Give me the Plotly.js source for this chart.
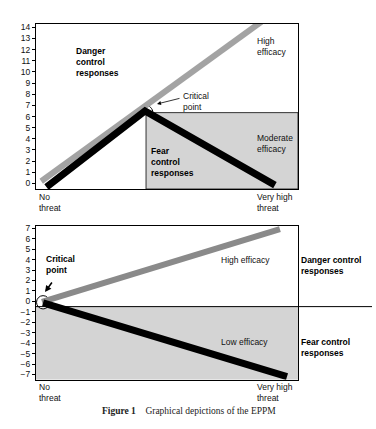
<!DOCTYPE html>
<html>
<head>
<meta charset="utf-8">
<script src="https://cdn.plot.ly/plotly-3.0.1.min.js"></script>
<style>html,body{margin:0;padding:0;background:#fff}#chart{width:376px;height:429px}</style>
</head>
<body>
<div id="chart"></div>
<script>
// ---- data (top panel) ----
const topHighX = [0.2, 8.6];
const topHighY = [0.2, 14.5];
const topModX = [0.4, 4.16, 9.12];
const topModY = [-0.33, 6.5, -0.15];
const topYTicks = [0,1,2,3,4,5,6,7,8,9,10,11,12,13,14];
// ---- data (bottom panel) ----
const botHighX = [0.23, 9.31];
const botHighY = [-0.05, 6.92];
const botLowX = [0.27, 9.58];
const botLowY = [-0.14, -7.2];
const botYTicks = [-7,-6,-5,-4,-3,-2,-1,0,1,2,3,4,5,6,7];
const xLabels = ["No<br>threat", "Very high<br>threat"];

const W = 376, H = 429;
const px = x => x / W;
const py = y => 1 - y / H;

const traces = [
  {x: topHighX, y: topHighY, xaxis:'x', yaxis:'y', mode:'lines', line:{color:'#a3a3a3', width:6}, hoverinfo:'skip'},
  {x: topModX, y: topModY, xaxis:'x', yaxis:'y', mode:'lines', line:{color:'#000', width:7}, hoverinfo:'skip'},
  {x: botHighX, y: botHighY, xaxis:'x2', yaxis:'y2', mode:'lines', line:{color:'#8a8a8a', width:6}, hoverinfo:'skip'},
  {x: botLowX, y: botLowY, xaxis:'x2', yaxis:'y2', mode:'lines', line:{color:'#000', width:7}, hoverinfo:'skip'}
];

const tf = {family:'Liberation Sans, Arial, sans-serif', size:8.5, color:'#111'};
const axY = (dom, rng, ticks, anchor) => ({
  domain: dom, range: rng, tickvals: ticks, ticks:'outside', ticklen:3, tickcolor:'#000',
  showline:true, mirror:true, linecolor:'#000', linewidth:1, showgrid:false, zeroline:false,
  tickfont: tf, anchor: anchor, fixedrange:true
});
const axX = (anchor) => ({
  domain:[px(36), px(298)], range:[0,10], showticklabels:false, ticks:'',
  showline:true, mirror:true, linecolor:'#000', linewidth:1, showgrid:false, zeroline:false, anchor: anchor, fixedrange:true
});

// semicircle helper (upper half) in data units
function upperArc(cx, cy, rx, ry){
  const k = 0.5523;
  return `M ${cx-rx},${cy} C ${cx-rx},${cy+k*ry} ${cx-k*rx},${cy+ry} ${cx},${cy+ry} C ${cx+k*rx},${cy+ry} ${cx+rx},${cy+k*ry} ${cx+rx},${cy}`;
}

const shapes = [
  {type:'rect', xref:'x', yref:'y', x0:4.2, x1:10, y0:-0.5, y1:6.35, fillcolor:'#d4d4d4', line:{color:'#333', width:1}, layer:'below'},
  {type:'path', xref:'x', yref:'y', path: upperArc(4.18, 6.35, 0.28, 0.65), fillcolor:'#fff', line:{color:'#000', width:1}, layer:'below'},
  {type:'rect', xref:'x2', yref:'y2', x0:0, x1:10, y0:-7.5, y1:-0.5, fillcolor:'#d4d4d4', line:{width:0}, layer:'below'},
  {type:'line', xref:'paper', yref:'y2', x0:px(36), x1:px(372), y0:-0.5, y1:-0.5, line:{color:'#000', width:1}},
  {type:'circle', xref:'x2', yref:'y2', x0:0.02, x1:0.52, y0:-0.72, y1:0.55, fillcolor:'#fff', line:{color:'#000', width:1}, layer:'below'}
];

const f = {family:'Liberation Sans, Arial, sans-serif', size:8.5, color:'#111'};
const fb = {family:'Liberation Sans, Arial, sans-serif', size:8.5, color:'#000', weight:'bold'};
const ann = (x, y, text, font) => ({xref:'paper', yref:'paper', x:px(x), y:py(y), text:text, showarrow:false, xanchor:'left', yanchor:'middle', align:'left', font:font||f});

const annotations = [
  ann(74, 62, '<b>Danger<br>control<br>responses</b>', fb),
  ann(255, 46, 'High<br>efficacy'),
  ann(181, 102, 'Critical<br>point'),
  ann(255, 144, 'Moderate<br>efficacy'),
  ann(149, 162, '<b>Fear<br>control<br>responses</b>', fb),
  ann(37, 202, xLabels[0]),
  ann(255, 202, xLabels[1]),
  {xref:'paper', yref:'paper', x:px(157), y:py(104), ax:px(181), ay:py(98), axref:'paper', ayref:'paper', text:'', showarrow:true, arrowhead:2, arrowsize:1, arrowwidth:0.8, arrowcolor:'#000', standoff:0},
  ann(44, 264, '<b>Critical<br>point</b>', fb),
  ann(219, 260, 'High efficacy'),
  ann(219, 342, 'Low efficacy'),
  ann(299, 265, '<b>Danger control<br>responses</b>', fb),
  ann(299, 347, '<b>Fear control<br>responses</b>', fb),
  ann(37, 392, xLabels[0]),
  ann(255, 392, xLabels[1]),
  {xref:'paper', yref:'paper', x:px(45), y:py(292), ax:px(53), ay:py(281), axref:'paper', ayref:'paper', text:'', showarrow:true, arrowhead:2, arrowsize:0.8, arrowwidth:1.6, arrowcolor:'#000', standoff:0},
  {xref:'paper', yref:'paper', x:px(189), y:py(411), text:'<b>Figure 1</b>    Graphical depictions of the EPPM', showarrow:false, xanchor:'center', yanchor:'middle', font:{family:'Liberation Serif, Times New Roman, serif', size:9.5, color:'#222'}}
];

const layout = {
  width: W, height: H,
  margin: {l:0, r:0, t:0, b:0},
  paper_bgcolor:'#fff', plot_bgcolor:'rgba(0,0,0,0)',
  showlegend:false,
  xaxis: axX('y'),
  yaxis: axY([py(189), py(24)], [-0.5, 14.3], topYTicks, 'x'),
  xaxis2: axX('y2'),
  yaxis2: axY([py(379.7), py(225.7)], [-7.5, 7.25], botYTicks, 'x2'),
  shapes: shapes,
  annotations: annotations
};

Plotly.newPlot('chart', traces, layout, {staticPlot:true, displayModeBar:false});
</script>
</body>
</html>
